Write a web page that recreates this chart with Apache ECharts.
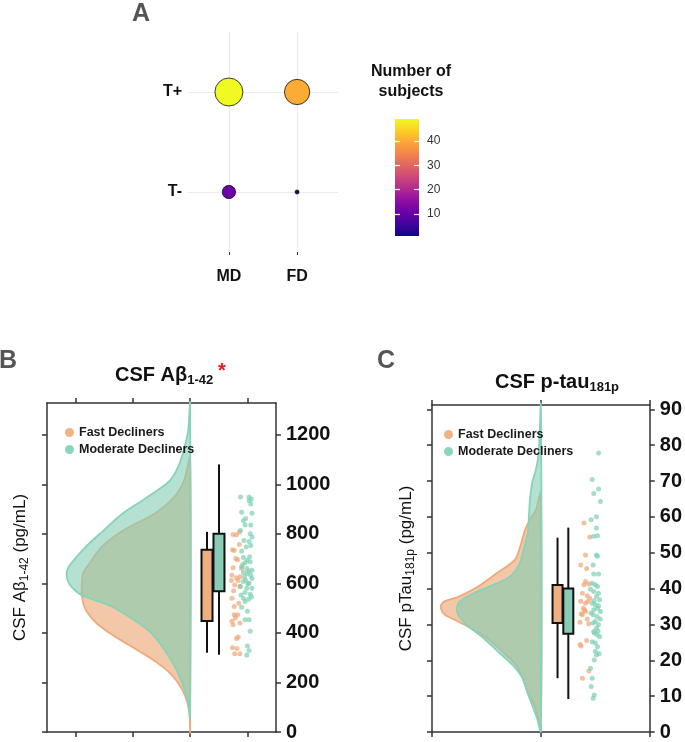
<!DOCTYPE html>
<html><head><meta charset="utf-8">
<script src="https://cdn.jsdelivr.net/npm/echarts@6/dist/echarts.min.js"></script>
<style>html,body{margin:0;padding:0;background:#fff}#c{width:685px;height:742px}</style>
</head><body><div id="c"></div>
<script>
const FF = '"Liberation Sans", Arial, Helvetica, sans-serif';

// ---------- Panel A ----------
const groupLabels = ['MD', 'FD'];
const tauLabels = ['T-', 'T+'];
const countsTneg = [11, 1];
const countsTpos = [49, 40];
const countRange = [1, 49];
const colorbarTicks = [10, 20, 30, 40];
const plasma = ['#0d0887','#41049d','#6a00a8','#8f0da4','#b12a90','#cc4778','#e16462','#f2844b','#fca636','#fcce25','#f0f921'];

// ---------- Panel B : CSF Abeta 1-42 ----------
const abetaTicks = [0, 200, 400, 600, 800, 1000, 1200];
const abetaMax = 1328;
// density outline: [value, half-width]
const abetaDensFD = [[0,0],[68,0.01],[120,0.05],[172,0.14],[228,0.31],[280,0.58],[332,0.93],[388,1.33],[440,1.64],[492,1.82],[548,1.89],[600,1.89],[640,1.87],[680,1.76],[748,1.54],[816,1.15],[880,0.63],[948,0.28],[1016,0.105],[1108,0]];
const abetaDensMD = [[60,0],[120,0.035],[172,0.10],[252,0.24],[332,0.45],[400,0.68],[452,0.98],[508,1.38],[552,1.89],[588,2.08],[620,2.15],[652,2.15],[680,2.08],[748,1.82],[816,1.50],[880,1.19],[948,0.75],[1016,0.35],[1080,0.19],[1148,0.10],[1216,0.035],[1328,0]];
// box: [lower whisker, Q1, Q3, upper whisker]
const abetaBoxFD = [320, 448, 736, 808];
const abetaBoxMD = [312, 568, 800, 1080];
const abetaFD = [797,807,796,736,757,733,663,660,633,627,623,593,587,540,507,473,473,447,433,440,383,377,340,337,316,316,700,612,570,520,460,695,612];
const abetaFDjit = [2.75,2.86,2.81,2.74,2.86,2.77,2.75,2.90,2.73,2.87,2.81,2.78,2.87,2.73,2.77,2.83,2.77,2.73,2.75,2.87,2.84,2.81,2.74,2.82,2.78,2.87,2.80,2.84,2.76,2.85,2.79,2.83,2.72];
const abetaMD = [949,949,933,920,887,883,853,836,836,813,800,787,773,769,753,747,731,704,693,687,683,667,660,653,644,640,627,620,607,600,587,580,580,563,556,540,536,527,504,487,453,453,407,347,329,311,940,862,707,676,633,613,597,553,545,650];
const abetaMDjit = [2.88,3.03,3.03,3.06,2.90,3.08,2.93,2.96,3.06,2.88,3.05,3.08,2.94,3.03,3.06,2.98,2.90,2.93,3.00,3.05,2.96,2.90,2.99,3.08,2.93,3.00,2.95,3.08,2.93,3.03,2.88,2.99,3.08,2.96,3.05,2.93,3.02,2.96,2.90,3.00,2.96,3.03,3.05,3.00,3.03,2.99,3.07,2.97,3.04,2.92,3.06,2.97,3.01,2.89,3.07,3.03];

// ---------- Panel C : CSF p-tau 181p ----------
const ptauTicks = [0,10,20,30,40,50,60,70,80,90];
const ptauMax = 91.2;
const ptauDensFD = [[0.3,0],[3.9,0.027],[7.5,0.06],[11.2,0.12],[15.1,0.17],[18.7,0.23],[22.3,0.35],[26.3,0.50],[30.7,0.75],[32.7,0.88],[34.9,0.92],[36.3,0.89],[37.7,0.76],[40.5,0.58],[44.4,0.40],[48,0.24],[51.7,0.19],[56.4,0.145],[59.2,0.10],[62,0.045],[64.8,0.02],[67,0]];
const ptauDensMD = [[0.3,0],[3.9,0.036],[7.5,0.08],[11.2,0.126],[15.1,0.17],[18.7,0.26],[22.3,0.39],[26.3,0.53],[30.4,0.70],[33.5,0.77],[36.3,0.75],[39.1,0.59],[43,0.30],[46.6,0.20],[50.8,0.16],[55.6,0.12],[60,0.11],[64.8,0.10],[69.5,0.08],[73.2,0.045],[77.9,0.02],[91.2,0]];
const ptauBoxFD = [15, 30.4, 41, 54.2];
const ptauBoxMD = [9.2, 27.4, 40, 57];
const ptauFD = [58.3,54.4,49.4,46.6,45.6,42,41.3,41.1,38.7,38,36.5,35.9,36.4,34.5,33.6,32.7,31.5,30.6,30.2,25.5,24.4,24,17,15,34,37.2,33];
const ptauFDjit = [1.396,1.45,1.41,1.366,1.42,1.41,1.441,1.396,1.381,1.426,1.366,1.41,1.43,1.39,1.41,1.381,1.426,1.36,1.44,1.42,1.36,1.37,1.441,1.381,1.40,1.45,1.37];
const ptauMD = [77.8,70.4,67.8,66.5,64.3,60,59.2,56.9,54.7,54.6,49.4,49,46.6,44.1,44.1,41.5,41.1,40.6,39.8,39.2,38.7,37.8,36.9,35.9,35.5,34.5,34.1,33.6,32.7,32.2,30.8,30.4,29.9,29,28,27.1,26.6,25.2,24.8,23.8,21.5,20.1,17.8,15,12.7,10.3,9.4,35.2,36.6,31.5,33.2,28.2,22.5,21.8,27.6];
const ptauMDjit = [1.53,1.471,1.53,1.486,1.547,1.51,1.462,1.51,1.52,1.486,1.51,1.52,1.48,1.53,1.486,1.471,1.50,1.52,1.456,1.486,1.53,1.51,1.54,1.471,1.50,1.52,1.486,1.547,1.48,1.516,1.50,1.48,1.53,1.51,1.486,1.516,1.54,1.471,1.50,1.52,1.51,1.49,1.456,1.471,1.462,1.49,1.48,1.53,1.49,1.545,1.46,1.525,1.50,1.535,1.49];

// ---------- styles ----------
const ORANGE = '#eda472', TEAL = '#79cdb0';
const ORANGE_FILL = 'rgba(233,163,110,0.6)', TEAL_FILL = 'rgba(130,205,178,0.6)';
const ORANGE_LINE = '#eeaa7c', TEAL_LINE = '#86d3b8';
const BOX_ORANGE = '#eeb07e', BOX_TEAL = '#89ccb5';

const bubbleData = [];
groupLabels.forEach((g, i) => {
  bubbleData.push([i + 1, 1, countsTneg[i]]);
  bubbleData.push([i + 1, 2, countsTpos[i]]);
});

function violin(pts, base, fill, stroke, xi, yi) {
  return {
    type: 'custom', xAxisIndex: xi, yAxisIndex: yi, silent: true, z: 2,
    data: pts.map(p => [base - p[1], p[0]]),
    encode: { x: 0, y: 1 },
    renderItem: (params, api) => {
      if (params.dataIndex !== 0) return null;
      const points = pts.map(p => api.coord([base - p[1], p[0]]));
      return { type: 'polygon', shape: { points: points, smooth: 0.3 },
               style: { fill: fill, stroke: stroke, lineWidth: 1.8 } };
    }
  };
}
function box(pos, stats, fill, xi, yi, w) {
  return {
    type: 'custom', xAxisIndex: xi, yAxisIndex: yi, silent: true, z: 3,
    data: [[pos].concat(stats)],
    encode: { x: 0, y: [1, 2, 3, 4] },
    renderItem: (params, api) => {
      const x = api.value(0);
      const lo = api.coord([x, api.value(1)]), q1 = api.coord([x, api.value(2)]);
      const q3 = api.coord([x, api.value(3)]), hi = api.coord([x, api.value(4)]);
      return { type: 'group', children: [
        { type: 'line', shape: { x1: lo[0], y1: lo[1], x2: hi[0], y2: hi[1] }, style: { stroke: '#111', lineWidth: 2 } },
        { type: 'rect', shape: { x: q1[0] - w / 2, y: q3[1], width: w, height: q1[1] - q3[1] }, style: { fill: fill, stroke: '#111', lineWidth: 2 } }
      ]};
    }
  };
}
function dots(name, vals, jit, color, xi, yi) {
  return { type: 'scatter', name: name, xAxisIndex: xi, yAxisIndex: yi, z: 4,
    symbolSize: 5, itemStyle: { color: color, opacity: 0.68 },
    data: vals.map((v, i) => [jit[i], v]) };
}
function frameX(gi, min, max, ticks, pos) {
  return { gridIndex: gi, type: 'value', min: min, max: max, position: pos,
    axisLine: { show: true, onZero: false, lineStyle: { color: '#333', width: 1.5 } },
    axisTick: { show: true, customValues: ticks, length: 5, lineStyle: { color: '#333', width: 1.5 } },
    axisLabel: { show: false }, splitLine: { show: false } };
}
function frameY(gi, min, max, ticks, pos, labels, extra) {
  return Object.assign({ gridIndex: gi, type: 'value', min: min, max: max, position: pos,
    axisLine: { show: true, onZero: false, lineStyle: { color: '#333', width: 1.5 } },
    axisTick: { show: true, customValues: ticks, length: 5, lineStyle: { color: '#333', width: 1.5 } },
    axisLabel: labels ? { customValues: ticks, formatter: v => String(v), fontSize: 20, fontWeight: 'bold', color: '#111', margin: 10, fontFamily: FF } : { show: false },
    splitLine: { show: false } }, extra || {});
}
const axisNameStyle = { fontSize: 17, color: '#111', fontFamily: FF,
  rich: { s: { fontSize: 12, color: '#111', fontFamily: FF, padding: [9, 0, 0, 0] } } };

const option = {
  animation: false,
  backgroundColor: '#fff',
  textStyle: { fontFamily: FF },
  grid: [
    { left: 188, top: 32, width: 150, height: 220 },
    { left: 395, top: 119, width: 24, height: 117 },
    { left: 47, top: 403, width: 229, height: 332 },
    { left: 432, top: 405, width: 223, height: 327 }
  ],
  visualMap: { type: 'continuous', show: false, min: countRange[0], max: countRange[1], dimension: 2, seriesIndex: 0, inRange: { color: plasma } },
  xAxis: [
    { gridIndex: 0, type: 'value', min: 0.4, max: 2.6,
      axisLine: { show: false },
      axisTick: { show: true, customValues: [1, 2], length: 3, lineStyle: { color: '#333' } },
      axisLabel: { customValues: [1, 2], formatter: v => groupLabels[Math.round(v) - 1], fontSize: 16, fontWeight: 'bold', color: '#111', margin: 17, fontFamily: FF },
      splitLine: { show: true, lineStyle: { color: '#ebebeb', width: 1.2 } } },
    { gridIndex: 1, type: 'category', data: [''], show: false },
    frameX(2, -0.5, 3.5, [0, 1, 2, 3], 'bottom'),
    frameX(2, -0.5, 3.5, [0, 1, 2, 3], 'top'),
    frameX(3, 0, 2, [0, 1, 2], 'bottom'),
    frameX(3, 0, 2, [0, 1, 2], 'top')
  ],
  yAxis: [
    { gridIndex: 0, type: 'value', min: 0.4, max: 2.6,
      axisLine: { show: false }, axisTick: { show: false, customValues: [1, 2] },
      axisLabel: { customValues: [1, 2], formatter: v => tauLabels[Math.round(v) - 1], fontSize: 16, fontWeight: 'bold', color: '#111', margin: 6, fontFamily: FF },
      splitLine: { show: true, lineStyle: { color: '#ebebeb', width: 1.2 } } },
    { gridIndex: 1, type: 'value', min: countRange[0], max: countRange[1], position: 'right', z: 10,
      axisLine: { show: false },
      axisTick: { show: true, inside: true, customValues: colorbarTicks, length: 5, lineStyle: { color: '#fff', width: 1.2 } },
      axisLabel: { customValues: colorbarTicks, fontSize: 12, color: '#333', margin: 8, fontFamily: FF },
      splitLine: { show: false } },
    { gridIndex: 1, type: 'value', min: countRange[0], max: countRange[1], position: 'left', z: 10,
      axisLine: { show: false },
      axisTick: { show: true, inside: true, customValues: colorbarTicks, length: 5, lineStyle: { color: '#fff', width: 1.2 } },
      axisLabel: { show: false }, splitLine: { show: false } },
    frameY(2, 0, abetaMax, abetaTicks, 'right', true),
    frameY(2, 0, abetaMax, abetaTicks, 'left', false,
      { name: 'CSF Aβ{s|1-42} (pg/mL)', nameLocation: 'middle', nameRotate: 90, nameGap: 16, nameTextStyle: axisNameStyle }),
    frameY(3, 0, ptauMax, ptauTicks, 'right', true, { axisLabel: { customValues: ptauTicks, formatter: v => String(v), fontSize: 20, fontWeight: 'bold', color: '#111', margin: 10, fontFamily: FF } }),
    frameY(3, 0, ptauMax, ptauTicks, 'left', false,
      { name: 'CSF pTau{s|181p} (pg/mL)', nameLocation: 'middle', nameRotate: 90, nameGap: 15, nameTextStyle: axisNameStyle })
  ],
  legend: [
    { left: 60, top: 421, orient: 'vertical', icon: 'circle', itemWidth: 9, itemHeight: 9, itemGap: 4,
      data: ['Fast Decliners', 'Moderate Decliners'], itemStyle: { opacity: 0.85 },
      textStyle: { fontSize: 12.5, fontWeight: 'bold', color: '#1a1a1a', fontFamily: FF } },
    { left: 439, top: 423, orient: 'vertical', icon: 'circle', itemWidth: 9, itemHeight: 9, itemGap: 4,
      data: ['Fast Decliners', 'Moderate Decliners'], itemStyle: { opacity: 0.85 },
      textStyle: { fontSize: 12.5, fontWeight: 'bold', color: '#1a1a1a', fontFamily: FF } }
  ],
  graphic: [
    { type: 'text', x: 141, y: 14, style: { text: 'A', fontSize: 25, fontWeight: 'bold', fontFamily: FF, fill: '#555', align: 'center', verticalAlign: 'middle' } },
    { type: 'text', x: 8, y: 361, style: { text: 'B', fontSize: 25, fontWeight: 'bold', fontFamily: FF, fill: '#555', align: 'center', verticalAlign: 'middle' } },
    { type: 'text', x: 386, y: 361, style: { text: 'C', fontSize: 25, fontWeight: 'bold', fontFamily: FF, fill: '#555', align: 'center', verticalAlign: 'middle' } },
    { type: 'text', x: 411, y: 82, style: { text: 'Number of\nsubjects', fontSize: 16, fontWeight: 'bold', fontFamily: FF, fill: '#111', align: 'center', verticalAlign: 'middle', lineHeight: 20 } },
    { type: 'text', x: 115, y: 375, style: { text: 'CSF Aβ{s|1-42}', fontSize: 20, fontWeight: 'bold', fontFamily: FF, fill: '#111', align: 'left', verticalAlign: 'middle',
        rich: { s: { fontSize: 13, fontWeight: 'bold', fontFamily: FF, fill: '#111', padding: [10, 0, 0, 0] } } } },
    { type: 'text', x: 222, y: 371, style: { text: '*', fontSize: 20, fontWeight: 'bold', fontFamily: FF, fill: '#e31a1c', align: 'center', verticalAlign: 'middle' } },
    { type: 'text', x: 495, y: 382, style: { text: 'CSF p-tau{s|181p}', fontSize: 20, fontWeight: 'bold', fontFamily: FF, fill: '#111', align: 'left', verticalAlign: 'middle',
        rich: { s: { fontSize: 13, fontWeight: 'bold', fontFamily: FF, fill: '#111', padding: [10, 0, 0, 0] } } } }
  ],
  series: [
    { type: 'scatter', xAxisIndex: 0, yAxisIndex: 0, data: bubbleData,
      symbolSize: d => 4 * Math.sqrt(d[2]),
      itemStyle: { borderColor: '#111', borderWidth: 0.8, opacity: 1 } },
    { type: 'bar', xAxisIndex: 1, yAxisIndex: 1, data: [countRange[1]], barWidth: '100%', silent: true,
      itemStyle: { color: { type: 'linear', x: 0, y: 1, x2: 0, y2: 0,
        colorStops: plasma.map((c, i) => ({ offset: i / (plasma.length - 1), color: c })) } } },
    violin(abetaDensFD, 2, ORANGE_FILL, ORANGE_LINE, 2, 3),
    violin(abetaDensMD, 2, TEAL_FILL, TEAL_LINE, 2, 3),
    box(2.295, abetaBoxFD, BOX_ORANGE, 2, 3, 11),
    box(2.504, abetaBoxMD, BOX_TEAL, 2, 3, 11),
    dots('Fast Decliners', abetaFD, abetaFDjit, ORANGE, 2, 3),
    dots('Moderate Decliners', abetaMD, abetaMDjit, TEAL, 2, 3),
    violin(ptauDensFD, 1, ORANGE_FILL, ORANGE_LINE, 4, 5),
    violin(ptauDensMD, 1, TEAL_FILL, TEAL_LINE, 4, 5),
    box(1.153, ptauBoxFD, BOX_ORANGE, 4, 5, 10),
    box(1.252, ptauBoxMD, BOX_TEAL, 4, 5, 10),
    dots('Fast Decliners', ptauFD, ptauFDjit, ORANGE, 4, 5),
    dots('Moderate Decliners', ptauMD, ptauMDjit, TEAL, 4, 5)
  ]
};
const chart = echarts.init(document.getElementById('c'), null, { renderer: 'canvas' });
chart.setOption(option);
</script></body></html>
